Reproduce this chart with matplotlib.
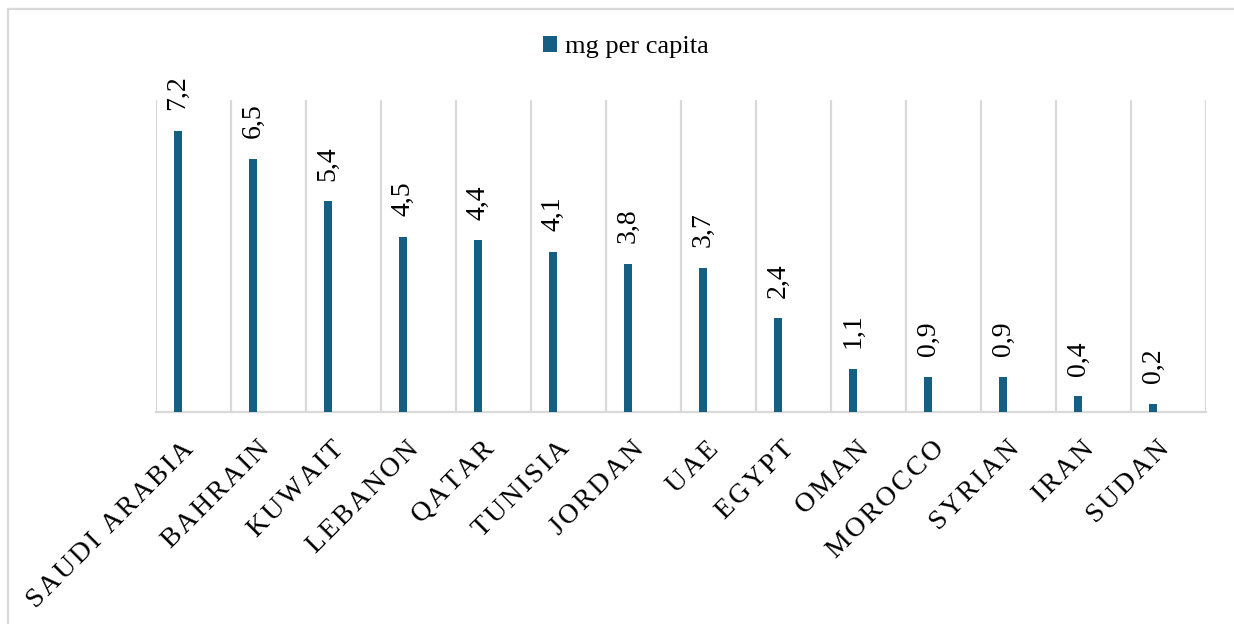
import matplotlib
matplotlib.use("Agg")
import matplotlib.pyplot as plt
from matplotlib.patches import Rectangle
from matplotlib.transforms import ScaledTranslation
import numpy as np

countries = ["SAUDI ARABIA", "BAHRAIN", "KUWAIT", "LEBANON", "QATAR", "TUNISIA",
             "JORDAN", "UAE", "EGYPT", "OMAN", "MOROCCO", "SYRIAN", "IRAN", "SUDAN"]
mg_per_capita = [7.2, 6.5, 5.4, 4.5, 4.4, 4.1, 3.8, 3.7, 2.4, 1.1, 0.9, 0.9, 0.4, 0.2]
series_name = "mg per capita"

plt.rcParams["font.family"] = ["Liberation Serif", "DejaVu Serif"]

bar_color = "#156082"
grid_color = "#d9d9d9"

fig = plt.figure(figsize=(12.34, 6.24), dpi=100)
ax = fig.add_axes([156 / 1234, 1 - 412 / 624, (1206 - 156) / 1234, (412 - 100) / 624])

x = np.arange(len(countries))
bars = ax.bar(x - 0.207, mg_per_capita, width=0.113, color=bar_color, zorder=3,
              label=series_name)
ax.bar_label(bars, labels=[f"{v:.1f}".replace(".", ",") for v in mg_per_capita],
             rotation=90, padding=15, fontsize=20, color="black")

ax.set_xlim(-0.5, len(countries) - 0.5)
ax.set_ylim(0, 8)
ax.set_yticks([])

# category boundaries as vertical gridlines
ax.set_xticks(np.arange(-0.5, len(countries), 1.0), minor=True)
ax.grid(which="minor", axis="x", color=grid_color, linewidth=1.6, zorder=0)
ax.tick_params(which="both", length=0)

ax.set_xticks(x)
spaced = ["\u200a".join(c) for c in countries]
ax.set_xticklabels(spaced, rotation=45, ha="right", va="center",
                   rotation_mode="anchor", fontsize=20)
ax.tick_params(axis="x", pad=24)
shift = ScaledTranslation(-3 / 100, 0, fig.dpi_scale_trans)
for lbl in ax.get_xticklabels():
    lbl.set_transform(lbl.get_transform() + shift)

for side in ["left", "right", "top"]:
    ax.spines[side].set_visible(False)
ax.spines["bottom"].set_color(grid_color)
ax.spines["bottom"].set_linewidth(1.6)

fig.legend(handles=[bars], labels=[series_name], loc="center",
           bbox_to_anchor=(626 / 1234, 1 - 47 / 624), frameon=False,
           fontsize=19, handlelength=0.55, handleheight=0.55, handletextpad=0.3)

# chart area frame
fig.patches.append(Rectangle((8 / 1234, -0.1), 1.2, 1 - 9 / 624 + 0.1,
                             transform=fig.transFigure, fill=False,
                             edgecolor=grid_color, linewidth=1.6))

fig.savefig("out.png", dpi=100, facecolor="white")
